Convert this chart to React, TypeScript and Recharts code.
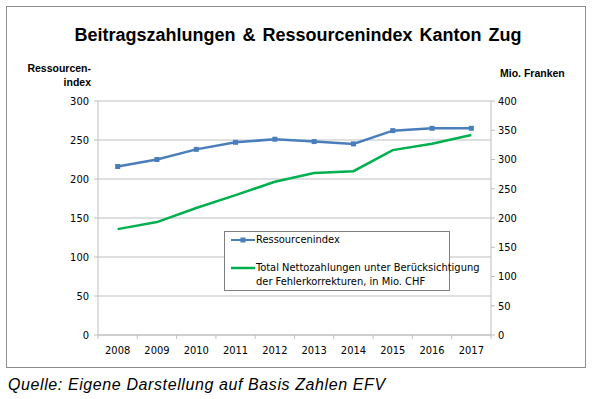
import { LineChart, Line, XAxis, YAxis, CartesianGrid } from "recharts"

const years = ["2008", "2009", "2010", "2011", "2012", "2013", "2014", "2015", "2016", "2017"]
const ressourcenindex = [216, 225, 238, 247, 251, 248, 245, 262, 265, 265]
const nettozahlungen = [181, 193, 217, 239, 262, 277, 280, 316, 327, 342]
const leftTicks = [0, 50, 100, 150, 200, 250, 300]
const rightTicks = [0, 50, 100, 150, 200, 250, 300, 350, 400]

const data = years.map((year, i) => ({
  year,
  index: ressourcenindex[i],
  total: nettozahlungen[i],
}))

const font = "'Liberation Sans', Arial, sans-serif"
const narrow = "'Liberation Sans Narrow', 'Arial Narrow', 'DejaVu Sans Condensed', sans-serif"
const blue = "#4a7ebb"
const green = "#00b050"
const axisGray = "#bfbfbf"
const halfBand = 393 / years.length / 2

function SquareDot(props: any) {
  const { cx, cy } = props
  if (cx == null || cy == null) return null
  return <rect x={cx - 2.5} y={cy - 2.5} width={5} height={5} fill={blue} />
}

// category label plus Excel-style tick marks between categories
function YearTick(props: any) {
  const { x, y, payload, index } = props
  return (
    <g>
      <line x1={x - halfBand} y1={y} x2={x - halfBand} y2={y + 4} stroke={axisGray} />
      {index === years.length - 1 && (
        <line x1={x + halfBand} y1={y} x2={x + halfBand} y2={y + 4} stroke={axisGray} />
      )}
      <text x={x} y={y + 19} textAnchor="middle" fill="#000" fontSize={11} fontFamily={narrow}>
        {payload.value}
      </text>
    </g>
  )
}

function ChartLegend() {
  return (
    <div
      style={{
        position: "absolute",
        left: 224,
        top: 231,
        width: 226,
        height: 60,
        border: "1px solid #7f7f7f",
        background: "#fff",
        boxSizing: "border-box",
        fontFamily: narrow,
        fontSize: 11,
        color: "#000",
        whiteSpace: "nowrap",
      }}
    >
      {/* Ressourcenindex */}
      <svg width={24} height={8} style={{ position: "absolute", left: 6, top: 4 }}>
        <line x1={0} y1={4} x2={24} y2={4} stroke={blue} strokeWidth={2} />
        <rect x={9.5} y={1.5} width={5} height={5} fill={blue} />
      </svg>
      <div style={{ position: "absolute", left: 31, top: 1 }}>Ressourcenindex</div>

      {/* Total */}
      <svg width={24} height={8} style={{ position: "absolute", left: 6, top: 32 }}>
        <line x1={0} y1={4} x2={24} y2={4} stroke={green} strokeWidth={2.5} />
      </svg>
      <div style={{ position: "absolute", left: 31, top: 29, lineHeight: "14px" }}>
        Total Nettozahlungen unter Berücksichtigung
        <br />
        der Fehlerkorrekturen, in Mio. CHF
      </div>
    </div>
  )
}

export default function App() {
  return (
    <div style={{ position: "relative", width: 596, height: 399, background: "#fff", fontFamily: font }}>
      <style>{"body{margin:0}"}</style>

      {/* Frame */}
      <div
        style={{
          position: "absolute",
          left: 6,
          top: 6,
          width: 580,
          height: 362,
          border: "1px solid #8c8c8c",
          boxSizing: "border-box",
        }}
      />

      <LineChart
        width={596}
        height={399}
        data={data}
        margin={{ top: 101, right: 45, left: 38, bottom: 34 }}
        style={{ position: "absolute", left: 0, top: 0 }}
      >
        <CartesianGrid vertical={false} stroke={axisGray} strokeWidth={1} yAxisId="left" />
        <XAxis
          dataKey="year"
          padding={{ left: halfBand, right: halfBand }}
          axisLine={{ stroke: axisGray }}
          tickLine={false}
          tickSize={0}
          tickMargin={0}
          tick={<YearTick />}
          height={30}
          interval={0}
        />
        <YAxis
          yAxisId="left"
          domain={[0, 300]}
          ticks={leftTicks}
          width={60}
          axisLine={{ stroke: axisGray }}
          tickLine={{ stroke: axisGray }}
          tickSize={4}
          tickMargin={5}
          tick={{ fill: "#000", fontSize: 11, fontFamily: narrow }}
        />
        <YAxis
          yAxisId="right"
          orientation="right"
          domain={[0, 400]}
          ticks={rightTicks}
          width={60}
          axisLine={{ stroke: axisGray }}
          tickLine={{ stroke: axisGray }}
          tickSize={4}
          tickMargin={3}
          tick={{ fill: "#000", fontSize: 11, fontFamily: narrow, textAnchor: "start" }}
        />
        <Line
          yAxisId="right"
          dataKey="total"
          stroke={green}
          strokeWidth={2.5}
          dot={false}
          isAnimationActive={false}
        />
        <Line
          yAxisId="left"
          dataKey="index"
          stroke={blue}
          strokeWidth={2.5}
          dot={<SquareDot />}
          isAnimationActive={false}
        />
      </LineChart>

      <ChartLegend />

      {/* Title */}
      <div
        style={{
          position: "absolute",
          left: 0,
          top: 25,
          width: 596,
          textAlign: "center",
          fontSize: 18,
          fontWeight: "bold",
          color: "#000",
          wordSpacing: 2,
        }}
      >
        Beitragszahlungen &amp; Ressourcenindex Kanton Zug
      </div>

      {/* Axis titles */}
      <div
        style={{
          position: "absolute",
          right: 596 - 91,
          top: 61,
          textAlign: "right",
          fontSize: 10.5,
          fontWeight: "bold",
          lineHeight: "14px",
          color: "#000",
        }}
      >
        Ressourcen-
        <br />
        index
      </div>
      <div
        style={{
          position: "absolute",
          left: 500,
          top: 67,
          fontSize: 10.5,
          fontWeight: "bold",
          color: "#000",
        }}
      >
        Mio. Franken
      </div>

      {/* Source */}
      <div
        style={{
          position: "absolute",
          left: 8,
          top: 376,
          fontSize: 16,
          fontStyle: "italic",
          letterSpacing: 0.6,
          color: "#000",
        }}
      >
        Quelle: Eigene Darstellung auf Basis Zahlen EFV
      </div>
    </div>
  )
}
